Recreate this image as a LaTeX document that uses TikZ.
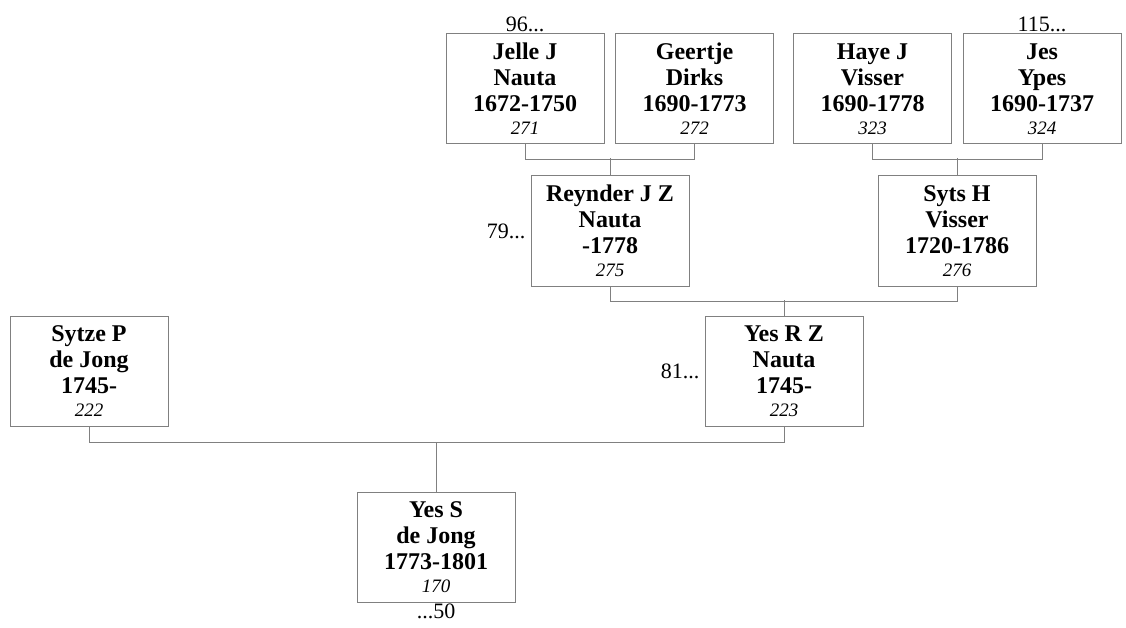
\documentclass[tikz,border=0pt]{standalone}
\usepackage{fontspec}
\setmainfont{Liberation Serif}
\usetikzlibrary{positioning}
\newcommand{\pers}[4]{#1\\#2\\#3\\[-3pt]{\fontsize{19}{20}\selectfont\mdseries\itshape #4}}

\begin{document}
\begin{tikzpicture}[
  x=1pt, y=1pt,
  per/.style={draw=gray, line width=1pt, minimum width=158pt, minimum height=110pt,
              inner sep=0pt, align=center, fill=white,
              font=\fontsize{24}{26}\selectfont\bfseries},
  ln/.style={draw=gray, line width=1pt},
  lbl/.style={inner sep=1pt, font=\fontsize{22}{24}\selectfont}
]
\useasboundingbox (0,0) rectangle (1126,-628);

\node[per] (jelle)   at (525,-89)   {\pers{Jelle J}{Nauta}{1672-1750}{271}};
\node[per] (geertje) at (694.5,-89) {\pers{Geertje}{Dirks}{1690-1773}{272}};
\node[per] (haye)    at (872.5,-89) {\pers{Haye J}{Visser}{1690-1778}{323}};
\node[per] (jes)     at (1042,-89)  {\pers{Jes}{Ypes}{1690-1737}{324}};

\node[per] (reynder) at (610,-231)  {\pers{Reynder J Z}{Nauta}{-1778}{275}};
\node[per] (syts)    at (957,-231)  {\pers{Syts H}{Visser}{1720-1786}{276}};

\node[per] (sytze)   at (89,-371)   {\pers{Sytze P}{de Jong}{1745-}{222}};
\node[per] (yesr)    at (784,-371)  {\pers{Yes R Z}{Nauta}{1745-}{223}};

\node[per] (yess)    at (436,-547)  {\pers{Yes S}{de Jong}{1773-1801}{170}};

% continuation marks
\node[lbl, above=0pt of jelle]  (n96)  {96...};
\node[lbl, above=0pt of jes]    (n115) {115...};
\node[lbl, left=4pt of reynder] (n79)  {79...};
\node[lbl, left=4pt of yesr]    (n81)  {81...};
\node[lbl, below=0pt of yess]   (n50)  {...50};

\draw[ln] (jelle.south) -- ++(0,-15) -| (geertje.south);
\draw[ln] (reynder.north) -- ++(0,17);
\draw[ln] (haye.south) -- ++(0,-15) -| (jes.south);
\draw[ln] (syts.north) -- ++(0,17);
\draw[ln] (reynder.south) -- ++(0,-15) -| (syts.south);
\draw[ln] (yesr.north) -- ++(0,16);
\draw[ln] (sytze.south) -- ++(0,-16) -| (yesr.south);
\draw[ln] (yess.north) -- ++(0,50);
\end{tikzpicture}
\end{document}
